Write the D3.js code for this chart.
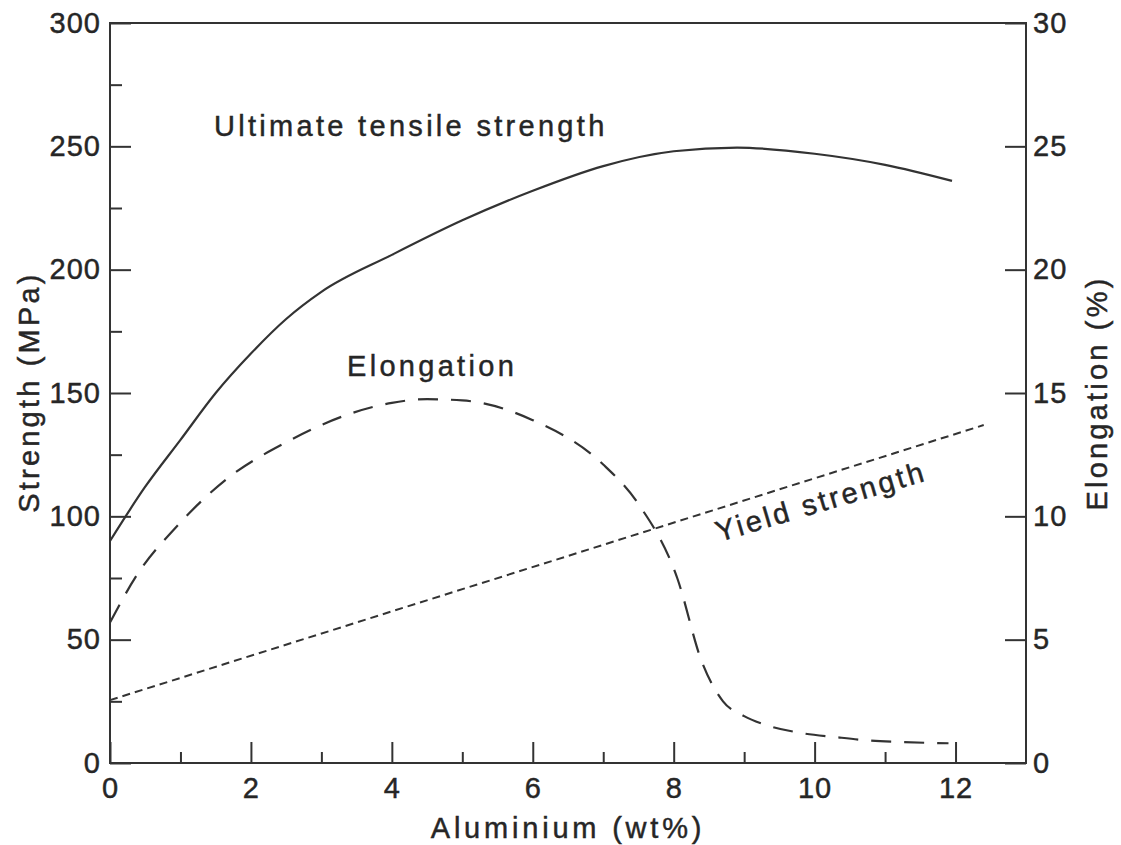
<!DOCTYPE html>
<meta charset="utf-8">
<style>
  body { margin: 0; background: #fff; }
  text { font-family: "Liberation Sans", Arial, Helvetica, sans-serif; fill: #262626; stroke: #262626; stroke-width: 0.45px; }
</style>
<body>
<script src="https://d3js.org/d3.v7.min.js"></script>
<script>

var width = 1121,
    height = 845;

// aluminium content (wt%) and values
var utsAl   = [0, 0.5, 1, 1.5, 2, 2.5, 3, 4, 5, 6, 7, 8, 8.9, 10, 11, 11.95];
var utsMPa  = [90, 112, 131, 150, 166, 180, 191, 206, 220, 232, 242, 248, 249.5, 247, 242.5, 236];

var elAl    = [0, 0.4, 0.95, 1.65, 2.5, 3.45, 4, 4.5, 5, 6, 7, 7.5, 8.05, 8.4, 8.7, 9, 9.3, 9.8, 10.3, 10.7, 11.25, 11.9];
var elPct   = [5.7, 7.7, 9.6, 11.5, 13.0, 14.2, 14.6, 14.75, 14.7, 13.9, 12.1, 10.5, 7.5, 4.1, 2.5, 1.9, 1.55, 1.22, 1.05, 0.93, 0.85, 0.8];

var ysAl    = [0, 12.4];
var ysMPa   = [25.5, 137];

var xMajor = [0, 2, 4, 6, 8, 10, 12];
var xMinor = [1, 3, 5, 7, 9, 11];
var yMajor = [0, 50, 100, 150, 200, 250, 300];
var yMinor = [25, 75, 125, 175, 225, 275];
var rMajor = [0, 5, 10, 15, 20, 25, 30];

var svg = d3.select("body").append("svg")
    .attr("width", width)
    .attr("height", height);

var x = d3.scaleLinear().domain([0, 13]).range([110, 1026]);
var y = d3.scaleLinear().domain([0, 300]).range([763, 23]);
var yR = d3.scaleLinear().domain([0, 30]).range([763, 23]);

var ink = "#333";

// axes
function style(g) {
  g.select(".domain").remove();
  g.selectAll("line").attr("stroke", ink).attr("stroke-width", 2);
  g.selectAll("text").attr("font-size", 29).attr("fill", "#262626")
    .attr("font-family", "'Liberation Sans', Arial, sans-serif")
    .attr("letter-spacing", 1);
}

svg.append("g").attr("transform", "translate(110,0)")
  .call(d3.axisLeft(y).tickValues(yMajor).tickSize(-21).tickPadding(9))
  .call(style);
svg.append("g").attr("transform", "translate(110,0)")
  .call(d3.axisLeft(y).tickValues(yMinor).tickSize(-12).tickFormat(""))
  .call(style);

svg.append("g").attr("transform", "translate(1026,0)")
  .call(d3.axisRight(yR).tickValues(rMajor).tickSize(-21).tickPadding(7))
  .call(style);

svg.append("g").attr("transform", "translate(0,763)")
  .call(d3.axisBottom(x).tickValues(xMajor).tickSize(-21).tickPadding(14))
  .call(style);
svg.append("g").attr("transform", "translate(0,763)")
  .call(d3.axisBottom(x).tickValues(xMinor).tickSize(-11).tickFormat(""))
  .call(style);

// frame
svg.append("rect")
  .attr("x", x(0)).attr("y", y(300))
  .attr("width", x(13) - x(0)).attr("height", y(0) - y(300))
  .attr("fill", "none").attr("stroke", ink).attr("stroke-width", 2);

// curves
var line = d3.line().curve(d3.curveMonotoneX);

svg.append("path")
  .attr("d", line(utsAl.map(function(a, i) { return [x(a), y(utsMPa[i])]; })))
  .attr("fill", "none").attr("stroke", ink).attr("stroke-width", 2.2);

svg.append("path")
  .attr("d", line(elAl.map(function(a, i) { return [x(a), yR(elPct[i])]; })))
  .attr("fill", "none").attr("stroke", ink).attr("stroke-width", 2.2)
  .attr("stroke-dasharray", "20,13");

svg.append("path")
  .attr("d", d3.line()(ysAl.map(function(a, i) { return [x(a), y(ysMPa[i])]; })))
  .attr("fill", "none").attr("stroke", ink).attr("stroke-width", 2)
  .attr("stroke-dasharray", "8,5");

// labels
function label(t, px, py, rot, anchor, ls) {
  svg.append("text")
    .attr("transform", "translate(" + px + "," + py + ") rotate(" + rot + ")")
    .attr("text-anchor", anchor || "start")
    .attr("font-size", 29)
    .attr("letter-spacing", ls || 3)
    .text(t);
}

label("Ultimate tensile strength", 214, 136, 0, "start", 3.3);
label("Elongation", 347, 376, 0, "start", 3.3);
label("Yield strength", 719, 542, -16.5);
label("Aluminium (wt%)", 568, 838, 0, "middle", 3.8);
label("Strength (MPa)", 39, 392, -90, "middle", 3.2);
label("Elongation (%)", 1107, 393, -90, "middle", 3.2);

</script>
</body>
